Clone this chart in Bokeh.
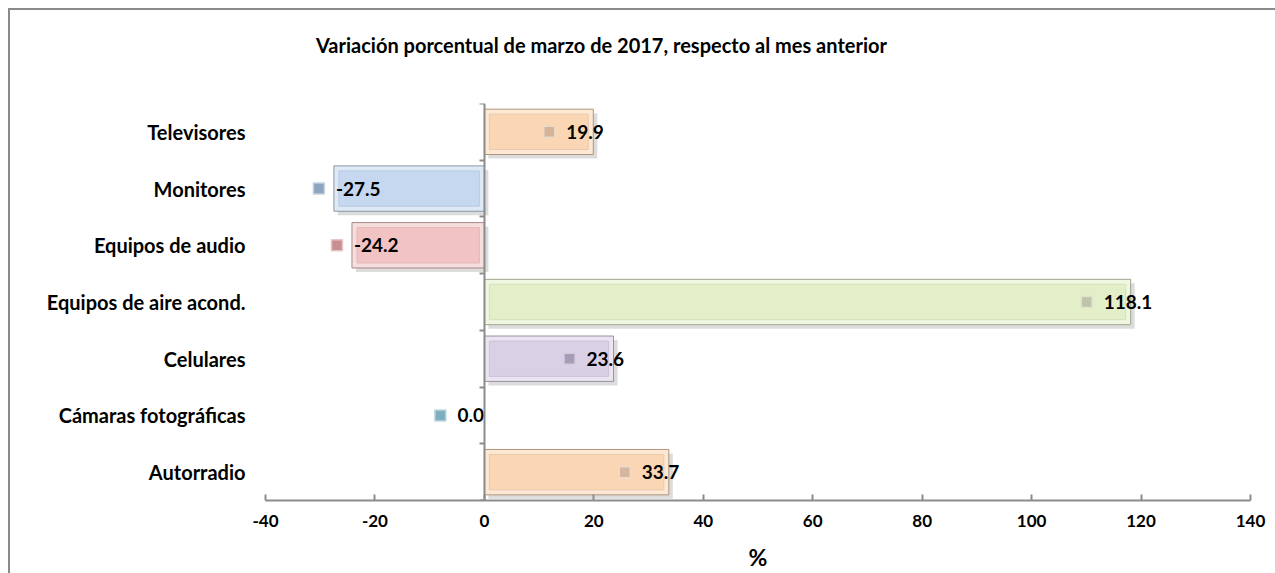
from bokeh.plotting import figure
from bokeh.models import Range1d, LinearAxis, FixedTicker, ColumnDataSource, Div
from bokeh.layouts import column
from bokeh.core.properties import value
from bokeh.embed import file_html
from bokeh.resources import INLINE

# ---- data (top to bottom) ----
categories = ["Televisores", "Monitores", "Equipos de audio", "Equipos de aire acond.",
              "Celulares", "Cámaras fotográficas", "Autorradio"]
values = [19.9, -27.5, -24.2, 118.1, 23.6, 0.0, 33.7]
bar_colors = ["#FBD6B4", "#C5D8F0", "#F2C3C3", "#E3EFC9", "#DAD0E6", "#B9DDE7", "#FBD6B4"]
key_colors = ["#D4B396", "#8EA5BF", "#C98F8F", "#BFC4A6", "#A79CB8", "#7EAFBE", "#D6B79D"]
x_ticks = [-40, -20, 0, 20, 40, 60, 80, 100, 120, 140]
title_text = "Variación porcentual de marzo de 2017, respecto al mes anterior"
x_label = "%"

FONT = "Lato"
W = 1265
TH = 60          # title block height (Div adds its own small padding)
H = 493          # figure height
X0, X1 = -40, 140
n = len(categories)
ys = [n - 1 - i + 0.5 for i in range(n)]

ML, MR, MT, MB = 255, 25, 23, 73
frame_w = W - ML - MR
upp = (X1 - X0) / frame_w  # data units per pixel
frame_h = H - MT - MB
ypp = n / frame_h


def shade(hexc, f):
    hexc = hexc.lstrip("#")
    r, g, b = [int(hexc[i:i + 2], 16) for i in (0, 2, 4)]
    if f < 0:
        r, g, b = [int(c * (1 + f)) for c in (r, g, b)]
    else:
        r, g, b = [int(c + (255 - c) * f) for c in (r, g, b)]
    return "#%02x%02x%02x" % (r, g, b)


title_div = Div(
    text=('<div style="margin:18px 0 0 301px; font-family:Lato; font-weight:bold; '
          'font-size:20px; line-height:24px; white-space:nowrap; color:black;">'
          + title_text + '</div>'),
    width=W, height=TH)

p = figure(width=W, height=H, output_backend="svg", toolbar_location=None,
           x_range=Range1d(X0, X1), y_range=Range1d(0, n),
           min_border_left=ML, min_border_right=MR, min_border_top=MT, min_border_bottom=MB,
           background_fill_color="white", border_fill_color="white")
p.outline_line_color = None
p.xgrid.visible = False
p.ygrid.visible = False

bh = 0.8
inset_x = 5 * upp
inset_y = 5 * ypp

src = ColumnDataSource(dict(
    y=ys,
    left=[min(0, v) for v in values],
    right=[max(0, v) for v in values],
    sh_left=[min(0, v) + 4 * upp for v in values],
    sh_right=[max(0, v) + 4 * upp for v in values],
    sh_y=[y - 4 * ypp for y in ys],
    in_left=[min(0, v) + inset_x if v != 0 else 0 for v in values],
    in_right=[max(0, v) - inset_x if v != 0 else 0 for v in values],
    fill=bar_colors,
    edge=[shade(c, -0.06) for c in bar_colors],
    line=[shade(c, -0.3) for c in bar_colors],
    light=[shade(c, 0.45) for c in bar_colors],
))
nz = ColumnDataSource({k: [v for v, val in zip(vals, values) if val != 0] for k, vals in src.data.items()})

# shadow
p.hbar(y="sh_y", left="sh_left", right="sh_right", height=bh, source=nz,
       fill_color="#9a9a9a", fill_alpha=0.35, line_color=None)
# outer bevel
p.hbar(y="y", left="left", right="right", height=bh, source=nz,
       fill_color="light", line_color="line", line_width=1)
# inner face
p.hbar(y="y", left="in_left", right="in_right", height=bh - 2 * inset_y, source=nz,
       fill_color="fill", line_color="edge", line_width=1)

# legend keys and value labels
key_x = [v + (-44 if v >= 0 else -15) * upp for v in values]
lab_off = [-27 if v >= 0 else 2 for v in values]
ksrc = ColumnDataSource(dict(x=key_x, y=ys, c=key_colors, lc=[shade(c, 0.5) for c in key_colors],
                             vx=values, off=lab_off, txt=["%.1f" % v for v in values]))
p.scatter(x="x", y="y", source=ksrc, marker="square", size=11,
          fill_color="c", line_color="lc", line_width=1.5)
p.text(x="vx", y="y", text="txt", x_offset="off", source=ksrc,
       text_font=value(FONT), text_font_style="bold", text_font_size="19px",
       text_color="black", text_align="left", text_baseline="middle")

# x axis
xa = p.xaxis[0]
xa.ticker = FixedTicker(ticks=x_ticks)
xa.major_label_overrides = {t: str(t) for t in x_ticks}
xa.axis_line_color = "#8c8c8c"
xa.axis_line_width = 2
xa.major_tick_line_color = "#8c8c8c"
xa.major_tick_line_width = 2
xa.major_tick_in = 6
xa.major_tick_out = 0
xa.minor_tick_line_color = None
xa.major_label_text_font = FONT
xa.major_label_text_font_style = "bold"
xa.major_label_text_font_size = "17px"
xa.major_label_text_color = "black"
xa.major_label_standoff = 14
xa.axis_label = x_label
xa.axis_label_text_font = FONT
xa.axis_label_text_font_style = "bold"
xa.axis_label_text_font_size = "23px"
xa.axis_label_text_color = "black"
xa.axis_label_standoff = 13

# category labels on the left
ya = p.yaxis[0]
ya.ticker = FixedTicker(ticks=ys)
ya.major_label_overrides = {y: c for y, c in zip(ys, categories)}
ya.axis_line_color = None
ya.major_tick_line_color = None
ya.minor_tick_line_color = None
ya.major_label_standoff = 14
ya.major_label_text_font = FONT
ya.major_label_text_font_style = "bold"
ya.major_label_text_font_size = "20px"
ya.major_label_text_color = "black"

# value axis at zero (line and boundary ticks only)
zero_ticks = list(range(n + 1))
za = LinearAxis(fixed_location=0, ticker=FixedTicker(ticks=zero_ticks),
                major_label_overrides={t: "" for t in zero_ticks},
                axis_line_color="#8c8c8c", axis_line_width=2,
                major_tick_line_color="#8c8c8c", major_tick_line_width=2,
                major_tick_out=5, major_tick_in=0, minor_tick_line_color=None)
p.add_layout(za, "left")

layout = column(title_div, p, spacing=0,
                styles={"border-left": "2px solid #8a8a8a", "border-top": "2px solid #8a8a8a",
                        "margin-left": "8px", "margin-top": "8px", "background-color": "white"})

open("out.html", "w").write(file_html(layout, INLINE))
